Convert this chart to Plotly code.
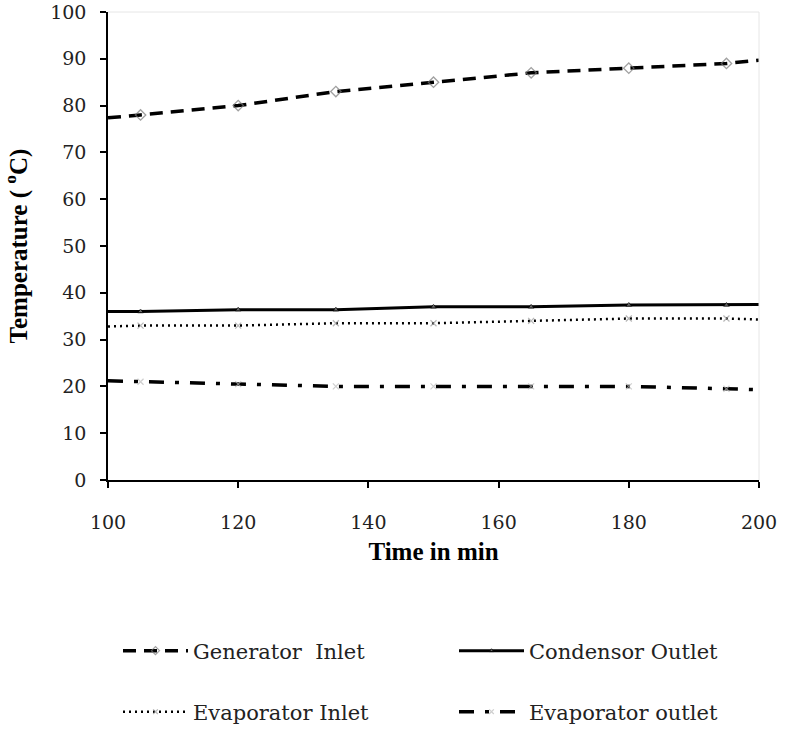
import plotly.graph_objects as go

time_min = [100, 105, 120, 135, 150, 165, 180, 195, 200]
generator_inlet = [77.4, 78, 80, 83, 85, 87, 88, 89, 89.7]
condensor_outlet = [36, 36, 36.4, 36.4, 37, 37, 37.4, 37.4, 37.5]
evaporator_inlet = [32.8, 33, 33, 33.5, 33.5, 34, 34.5, 34.5, 34.3]
evaporator_outlet = [21.2, 21, 20.5, 20, 20, 20, 20, 19.5, 19.3]
marker_shown = [0, 1, 1, 1, 1, 1, 1, 1, 0]

x_ticks = [100, 120, 140, 160, 180, 200]
y_ticks = [0, 10, 20, 30, 40, 50, 60, 70, 80, 90, 100]

def sizes(s):
    return [s if m else 0 for m in marker_shown]

fig = go.Figure()
fig.add_trace(go.Scatter(
    x=time_min, y=generator_inlet, name="Generator  Inlet", mode="lines+markers",
    line=dict(color="black", width=3.5, dash="13px,8px"),
    marker=dict(symbol="diamond-open", size=sizes(8), color="#777", line=dict(width=1.3, color="#777")),
    legend="legend", showlegend=True))
fig.add_trace(go.Scatter(
    x=time_min, y=condensor_outlet, name="Condensor Outlet", mode="lines+markers",
    line=dict(color="black", width=3),
    marker=dict(symbol="triangle-up", size=sizes(5), color="#999"),
    legend="legend2", showlegend=True))
fig.add_trace(go.Scatter(
    x=time_min, y=evaporator_inlet, name="Evaporator Inlet", mode="lines+markers",
    line=dict(color="black", width=2.5, dash="2px,4px"),
    marker=dict(symbol="x-thin", size=sizes(6), color="#999", line=dict(width=1.2, color="#999")),
    legend="legend3", showlegend=True))
fig.add_trace(go.Scatter(
    x=time_min, y=evaporator_outlet, name="Evaporator outlet", mode="lines+markers",
    line=dict(color="black", width=3.5, dash="15px,11px,4px,11px"),
    marker=dict(symbol="x-thin", size=sizes(6), color="#bbb", line=dict(width=1.2, color="#bbb")),
    legend="legend4", showlegend=True))

axis_common = dict(
    showline=True, linecolor="black", linewidth=1.5,
    ticks="outside", ticklen=6, tickcolor="black", tickwidth=1.5,
    showgrid=False, zeroline=False, ticklabeloverflow="allow",
    tickfont=dict(family="DejaVu Serif", size=19, color="#222"),
)

W, H = 785, 729
legend_common = dict(
    orientation="h", xref="container", yref="container",
    xanchor="left", yanchor="middle", itemwidth=65,
    font=dict(family="DejaVu Serif", size=21, color="#222"),
    bgcolor="rgba(0,0,0,0)",
)
col1_x, col2_x = 118 / W, 454 / W
row1_y, row2_y = (H - 651) / H, (H - 712) / H

fig.update_layout(
    width=W, height=H, showlegend=True,
    margin=dict(l=108, r=26, t=12, b=249, autoexpand=False),
    paper_bgcolor="white", plot_bgcolor="white",
    xaxis=dict(range=[100, 200], tickvals=x_ticks, ticklabelstandoff=18,
               title=dict(text="<b>Time in min</b>", standoff=11,
                          font=dict(family="Liberation Serif", size=25, color="black")),
               **axis_common),
    yaxis=dict(range=[0, 100], tickvals=y_ticks, ticklabelstandoff=10,
               title=dict(text="<b>Temperature ( <sup>o</sup>C)</b>", standoff=26,
                          font=dict(family="Liberation Serif", size=25, color="black")),
               **axis_common),
    legend=dict(x=col1_x, y=row1_y, **legend_common),
    legend2=dict(x=col2_x, y=row1_y, **legend_common),
    legend3=dict(x=col1_x, y=row2_y, **legend_common),
    legend4=dict(x=col2_x, y=row2_y, **legend_common),
    shapes=[
        dict(type="line", xref="paper", yref="paper", x0=0, x1=1, y0=1, y1=1,
             line=dict(color="#e6e6e6", width=1)),
        dict(type="line", xref="paper", yref="paper", x0=1, x1=1, y0=0, y1=1,
             line=dict(color="#e6e6e6", width=1)),
    ],
)

fig.write_html("out.html", config={"displayModeBar": False},
               post_script="document.body.style.margin='0';")
